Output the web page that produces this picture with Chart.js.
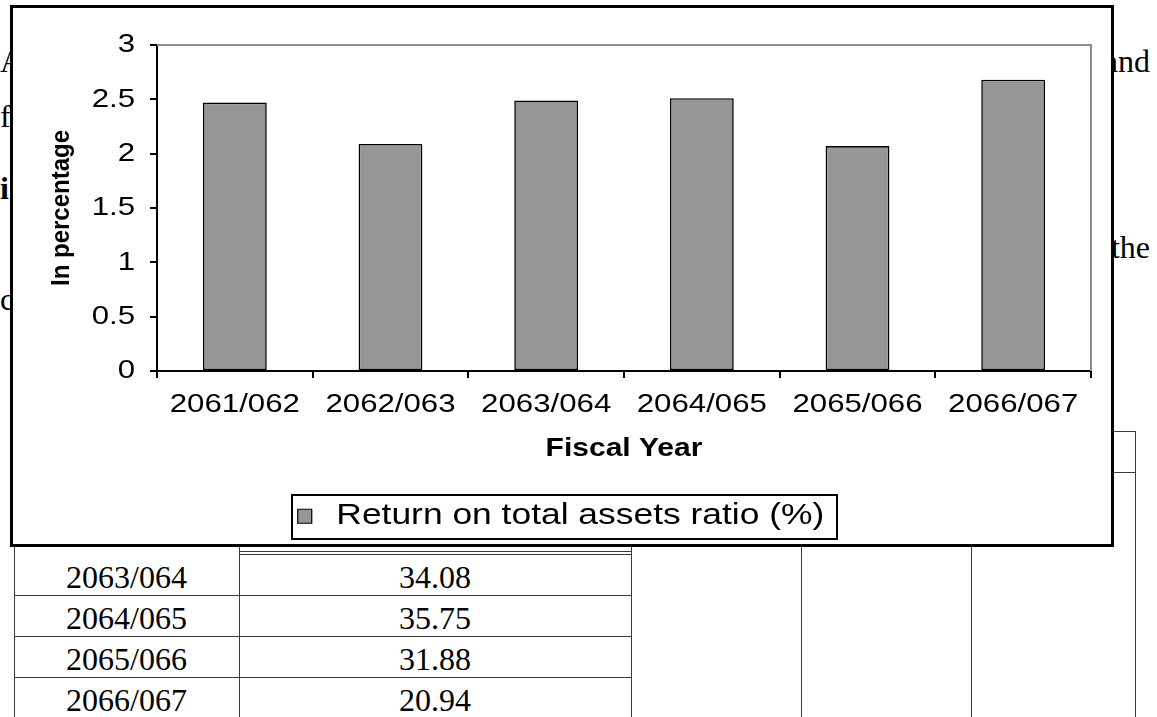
<!DOCTYPE html>
<html>
<head>
<meta charset="utf-8">
<script src="https://cdn.jsdelivr.net/npm/chart.js@4/dist/chart.umd.min.js"></script>
<style>
html, body { margin: 0; padding: 0; background: #fff; }
body { position: relative; width: 1157px; height: 717px; overflow: hidden; }
.txt { position: absolute; font-family: "Liberation Serif", "Times New Roman", serif; font-size: 32px; line-height: 32px; color: #000; white-space: nowrap; }
.hl { position: absolute; height: 0; border-top: 1.5px solid #3a3a3a; }
.vl { position: absolute; width: 0; border-left: 1.5px solid #3a3a3a; }
.cell { position: absolute; text-align: center; font-family: "Liberation Serif", "Times New Roman", serif; font-size: 32px; line-height: 32px; color: #000; white-space: nowrap; }
#frame { position: absolute; left: 10px; top: 5px; width: 1098px; height: 536px; border: 3px solid #000; background: #fff; z-index: 5; }
#frame canvas { display: block; }
</style>
</head>
<body>
<div id="doc"></div>
<div id="frame"><canvas id="roaChart" width="1098" height="536"></canvas></div>
<script>
// ---- chart data ----
const categories = ['2061/062', '2062/063', '2063/064', '2064/065', '2065/066', '2066/067'];
const roaPercent = [2.47, 2.09, 2.49, 2.51, 2.07, 2.68];
const yTickValues = [0, 0.5, 1, 1.5, 2, 2.5, 3];
const seriesLabel = 'Return on total assets ratio (%)';
const xAxisTitle = 'Fiscal Year';
const yAxisTitle = 'In percentage';

// ---- table rows of the page below the chart ----
const tableYears = ['2063/064', '2064/065', '2065/066', '2066/067'];
const tableValues = ['34.08', '35.75', '31.88', '20.94'];

// ---- page text around the chart ----
const doc = document.getElementById('doc');
const BASE = 0.8375 * 32; // baseline offset of a 32px line box

function addText(str, opts) {
  const s = document.createElement('div');
  s.className = 'txt';
  s.textContent = str;
  s.style.top = (opts.baseline - BASE) + 'px';
  if (opts.left !== undefined) s.style.left = opts.left + 'px';
  if (opts.right !== undefined) s.style.right = opts.right + 'px';
  if (opts.bold) s.style.fontWeight = 'bold';
  doc.appendChild(s);
}
addText('A', { left: 0, baseline: 72 });
addText('f', { left: 0, baseline: 127 });
addText('i', { left: 0, baseline: 199, bold: true });
addText('c', { left: 0, baseline: 310 });
addText('and', { right: 7, baseline: 72 });
addText('the', { right: 7, baseline: 258 });

function hLine(x1, x2, y) {
  const d = document.createElement('div');
  d.className = 'hl';
  d.style.left = x1 + 'px'; d.style.width = (x2 - x1) + 'px'; d.style.top = y + 'px';
  doc.appendChild(d);
}
function vLine(x, y1, y2) {
  const d = document.createElement('div');
  d.className = 'vl';
  d.style.left = x + 'px'; d.style.top = y1 + 'px'; d.style.height = (y2 - y1) + 'px';
  doc.appendChild(d);
}

// table grid
const colX = [14, 239, 631, 801, 971, 1135];
const tableTop = 431, rowH = 41;
hLine(colX[0], colX[5], tableTop);
hLine(colX[0], colX[5], tableTop + rowH);
colX.forEach(x => vLine(x, tableTop, 717));
hLine(colX[1], colX[2], 551);
hLine(colX[1], colX[2], 554);
for (let r = 1; r <= 3; r++) hLine(colX[0], colX[2], 554 + r * rowH);

tableYears.forEach((yr, i) => {
  const base = 588 + i * rowH;
  [[yr, colX[0], colX[1]], [tableValues[i], colX[1], colX[2]]].forEach(([t, a, b]) => {
    const c = document.createElement('div');
    c.className = 'cell';
    c.textContent = t;
    c.style.left = a + 'px'; c.style.width = (b - a) + 'px';
    c.style.top = (base - BASE) + 'px';
    doc.appendChild(c);
  });
});

// ---- chart ----
const W = 1098, H = 536;
const PLOT = { left: 144, right: 1078, top: 37, bottom: 363 };
const PAD_LEFT = 18;  // keeps the legend centred on the frame
const SX = 1.2;       // horizontal widening of chart lettering
const ROT_SX = 1.1;   // widening of the rotated axis title

// widen the chart lettering horizontally, layout included
const textStretch = {
  id: 'textStretch',
  beforeInit(chart) {
    const ctx = chart.ctx;
    const fill = ctx.fillText.bind(ctx);
    const measure = ctx.measureText.bind(ctx);
    ctx.measureText = (t) => {
      const m = measure(t);
      return { width: m.width * SX, actualBoundingBoxAscent: m.actualBoundingBoxAscent, actualBoundingBoxDescent: m.actualBoundingBoxDescent };
    };
    ctx.fillText = (t, x, y) => {
      const tr = ctx.getTransform();
      const rotated = Math.abs(tr.b) > 1e-6;
      ctx.save();
      ctx.translate(x, y);
      if (rotated) ctx.scale(1, ROT_SX); else ctx.scale(SX, 1);
      fill(t, 0, 0);
      ctx.restore();
    };
  }
};

// grey top and right edges of the plot area
const plotFrame = {
  id: 'plotFrame',
  beforeDatasetsDraw(chart) {
    const { ctx, chartArea: a } = chart;
    ctx.save();
    ctx.strokeStyle = '#8c8c8c';
    ctx.lineWidth = 2;
    ctx.beginPath();
    ctx.moveTo(a.left, a.top);
    ctx.lineTo(a.right, a.top);
    ctx.lineTo(a.right, a.bottom);
    ctx.stroke();
    ctx.restore();
  }
};

// box round the legend entry
const legendFrame = {
  id: 'legendFrame',
  afterDraw(chart) {
    const lg = chart.legend;
    if (!lg || !lg.legendHitBoxes || !lg.legendHitBoxes.length) return;
    const hb = lg.legendHitBoxes[0];
    const ctx = chart.ctx;
    ctx.save();
    ctx.strokeStyle = '#000';
    ctx.lineWidth = 2;
    ctx.strokeRect(Math.round(hb.left - 6), Math.round(hb.top - 7), Math.round(hb.width + 18), Math.round(hb.height + 14));
    ctx.restore();
  }
};

const sans = 'Liberation Sans, Arial, sans-serif';

new Chart(document.getElementById('roaChart'), {
  type: 'bar',
  data: {
    labels: categories,
    datasets: [{
      label: seriesLabel,
      data: roaPercent,
      backgroundColor: '#969696',
      borderColor: '#000',
      borderWidth: 1.6,
      borderSkipped: false,
      categoryPercentage: 1,
      barPercentage: 0.41
    }]
  },
  options: {
    responsive: false,
    animation: false,
    devicePixelRatio: 1,
    layout: { padding: { left: PAD_LEFT, top: PLOT.top, right: W - PLOT.right, bottom: 3 } },
    plugins: {
      tooltip: { enabled: false },
      legend: {
        position: 'bottom',
        labels: {
          font: { family: sans, size: 29.5 },
          color: '#000',
          boxWidth: 14,
          boxHeight: 14,
          padding: 8.5,
          generateLabels(chart) {
            const items = Chart.defaults.plugins.legend.labels.generateLabels(chart);
            items.forEach(it => { it.text = ' ' + it.text; it.lineWidth = 1.2; });
            return items;
          }
        }
      }
    },
    scales: {
      x: {
        grid: { offset: true, drawOnChartArea: false, drawTicks: true, tickLength: 7, color: '#000', lineWidth: 2 },
        border: { display: true, color: '#000', width: 2 },
        ticks: { font: { family: sans, size: 26 }, color: '#000', padding: 11, maxRotation: 0, autoSkip: false },
        title: { display: true, text: xAxisTitle, color: '#000', font: { family: sans, size: 25, weight: 'bold' }, padding: { top: 0, bottom: 29 } },
        afterFit(s) {
          const lh = s.chart.legend ? s.chart.legend.height : 0;
          s.height = H - 3 - PLOT.bottom - lh;
        }
      },
      y: {
        min: 0,
        max: 3,
        afterBuildTicks(s) { s.ticks = yTickValues.map(v => ({ value: v })); },
        grid: { drawOnChartArea: false, drawTicks: true, tickLength: 7, color: '#000', lineWidth: 2 },
        border: { display: true, color: '#000', width: 2 },
        ticks: { font: { family: sans, size: 26 }, color: '#000', padding: 15, callback: v => String(v) },
        title: { display: true, text: yAxisTitle, color: '#000', font: { family: sans, size: 24, weight: 'bold' }, padding: { top: 34 - PAD_LEFT, bottom: 0 } },
        afterFit(s) { s.width = PLOT.left - PAD_LEFT; }
      }
    }
  },
  plugins: [textStretch, plotFrame, legendFrame]
});
</script>
</body>
</html>
